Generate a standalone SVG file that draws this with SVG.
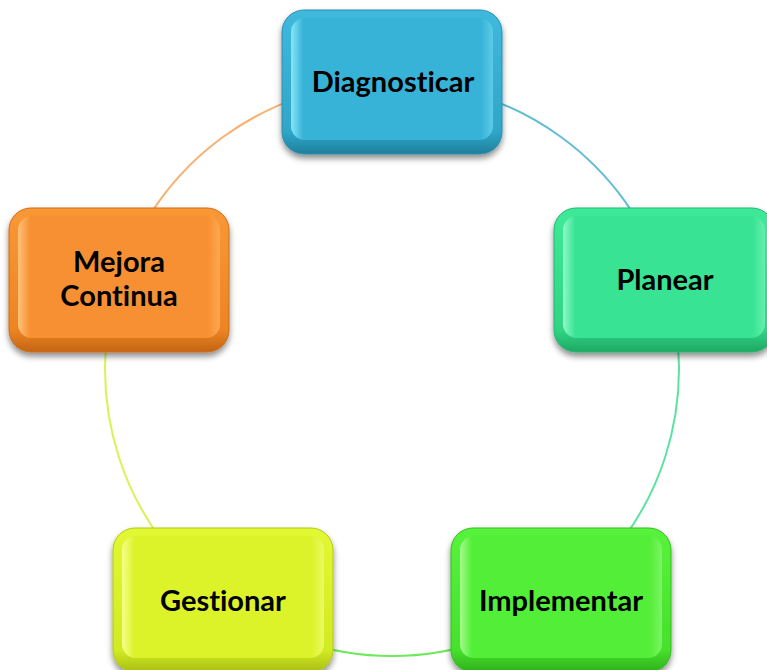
<svg xmlns="http://www.w3.org/2000/svg" width="767" height="670" viewBox="0 0 767 670">
<style>
  .lbl{font-family:Lato,"Open Sans","Liberation Sans",sans-serif;font-weight:700;font-size:29px;fill:#000;text-anchor:middle;font-variant-ligatures:none}
  .conn{fill:none;stroke-width:2}
  .outer{stroke-width:1}
</style>
<defs>
  <filter id="sh" x="-10%" y="-10%" width="120%" height="130%">
    <feGaussianBlur in="SourceAlpha" stdDeviation="3"/>
    <feOffset dx="0" dy="4"/>
    <feComponentTransfer><feFuncA type="linear" slope="0.45"/></feComponentTransfer>
    <feMerge><feMergeNode/><feMergeNode in="SourceGraphic"/></feMerge>
  </filter>
  <linearGradient id="oD" x1="0" y1="0" x2="0" y2="1"><stop offset="0" stop-color="#3fb9dc"/><stop offset="0.85" stop-color="#2fa6c8"/><stop offset="1" stop-color="#1f7f9c"/></linearGradient>
  <linearGradient id="iD" x1="0" y1="0" x2="1" y2="0"><stop offset="0" stop-color="#86e6f8"/><stop offset="0.06" stop-color="#39b3d8"/><stop offset="0.94" stop-color="#39b3d8"/><stop offset="1" stop-color="#5ccbe8"/></linearGradient>
  <linearGradient id="oP" x1="0" y1="0" x2="0" y2="1"><stop offset="0" stop-color="#3eea98"/><stop offset="0.85" stop-color="#2fd484"/><stop offset="1" stop-color="#1fa862"/></linearGradient>
  <linearGradient id="iP" x1="0" y1="0" x2="1" y2="0"><stop offset="0" stop-color="#90f8c8"/><stop offset="0.06" stop-color="#38e494"/><stop offset="0.94" stop-color="#38e494"/><stop offset="1" stop-color="#66eeac"/></linearGradient>
  <linearGradient id="oI" x1="0" y1="0" x2="0" y2="1"><stop offset="0" stop-color="#58f33c"/><stop offset="0.85" stop-color="#46e02c"/><stop offset="1" stop-color="#30b01c"/></linearGradient>
  <linearGradient id="iI" x1="0" y1="0" x2="1" y2="0"><stop offset="0" stop-color="#a2fc8c"/><stop offset="0.06" stop-color="#52ee38"/><stop offset="0.94" stop-color="#52ee38"/><stop offset="1" stop-color="#7cf462"/></linearGradient>
  <linearGradient id="oG" x1="0" y1="0" x2="0" y2="1"><stop offset="0" stop-color="#e2f832"/><stop offset="0.85" stop-color="#d2ea24"/><stop offset="1" stop-color="#a8be14"/></linearGradient>
  <linearGradient id="iG" x1="0" y1="0" x2="1" y2="0"><stop offset="0" stop-color="#f6ff8a"/><stop offset="0.06" stop-color="#dcf32c"/><stop offset="0.94" stop-color="#dcf32c"/><stop offset="1" stop-color="#eafa60"/></linearGradient>
  <linearGradient id="oM" x1="0" y1="0" x2="0" y2="1"><stop offset="0" stop-color="#fa9836"/><stop offset="0.85" stop-color="#ec8424"/><stop offset="1" stop-color="#c46414"/></linearGradient>
  <linearGradient id="iM" x1="0" y1="0" x2="1" y2="0"><stop offset="0" stop-color="#ffc27a"/><stop offset="0.06" stop-color="#f79030"/><stop offset="0.94" stop-color="#f79030"/><stop offset="1" stop-color="#fda850"/></linearGradient>
</defs>
<rect width="767" height="670" fill="#fff"/>
<g id="connectors">
  <path class="conn" stroke="#62bcd4" d="M392,82 A287,287 0 0 1 664.96,280.31"/>
  <path class="conn" stroke="#5ee2a2" d="M664.96,280.31 A287,287 0 0 1 560.69,601.19"/>
  <path class="conn" stroke="#6cea5a" d="M560.69,601.19 A287,287 0 0 1 223.31,601.19"/>
  <path class="conn" stroke="#d8f454" d="M223.31,601.19 A287,287 0 0 1 119.04,280.31"/>
  <path class="conn" stroke="#f8b072" d="M119.04,280.31 A287,287 0 0 1 392,82"/>
</g>
<g id="node-diagnosticar" transform="translate(282,10)">
  <g filter="url(#sh)">
    <rect class="outer" width="220" height="144" rx="22" fill="url(#oD)" stroke="#2a8eae"/>
    <rect x="9" y="8" width="202" height="122" rx="14" fill="url(#iD)"/>
  </g>
  <text class="lbl" x="111" y="82">Diagnosticar</text>
</g>
<g id="node-planear" transform="translate(554,208)">
  <g filter="url(#sh)">
    <rect class="outer" width="220" height="144" rx="22" fill="url(#oP)" stroke="#22b470"/>
    <rect x="9" y="8" width="202" height="122" rx="14" fill="url(#iP)"/>
  </g>
  <text class="lbl" x="111" y="82">Planear</text>
</g>
<g id="node-implementar" transform="translate(451,528)">
  <g filter="url(#sh)">
    <rect class="outer" width="220" height="144" rx="22" fill="url(#oI)" stroke="#34bc20"/>
    <rect x="9" y="8" width="202" height="122" rx="14" fill="url(#iI)"/>
  </g>
  <text class="lbl" x="110" y="83">Implementar</text>
</g>
<g id="node-gestionar" transform="translate(113,528)">
  <g filter="url(#sh)">
    <rect class="outer" width="220" height="144" rx="22" fill="url(#oG)" stroke="#b0c818"/>
    <rect x="9" y="8" width="202" height="122" rx="14" fill="url(#iG)"/>
  </g>
  <text class="lbl" x="110" y="83">Gestionar</text>
</g>
<g id="node-mejora" transform="translate(9,208)">
  <g filter="url(#sh)">
    <rect class="outer" width="220" height="144" rx="22" fill="url(#oM)" stroke="#cc6c18"/>
    <rect x="9" y="8" width="202" height="122" rx="14" fill="url(#iM)"/>
  </g>
  <text class="lbl" x="110" y="64">Mejora</text>
  <text class="lbl" x="110" y="98">Continua</text>
</g>
</svg>
